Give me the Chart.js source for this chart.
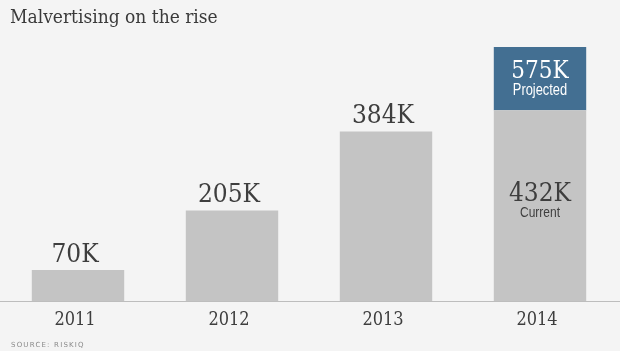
<!DOCTYPE html>
<html>
<head>
<meta charset="utf-8">
<script src="https://cdn.jsdelivr.net/npm/chart.js@4/dist/chart.umd.min.js"></script>
<style>
  html, body { margin: 0; padding: 0; background: #f4f4f4; }
  #wrap { position: relative; width: 620px; height: 351px; }
</style>
</head>
<body>
<div id="wrap"><canvas id="malChart" width="620" height="351"></canvas></div>
<script>
const years = ['2011', '2012', '2013', '2014'];
const current = [70, 205, 384, 432];          // thousands
const projectedTotal = [null, null, null, 575]; // thousands
const valueLabels = ['70K', '205K', '384K', '432K'];
const projectedLabel = '575K';

const SERIF = '"DejaVu Serif Condensed", "DejaVu Serif", serif';
const SANS = '"Liberation Sans", Arial, sans-serif';

// projected part sits on top of the current bar
const projectedExtra = projectedTotal.map(function(t, i) { return t == null ? null : t - current[i]; });

// narrow sans text, squeezed horizontally
function narrowText(c, txt, x, y, size, sx) {
  c.save();
  c.translate(x, y);
  c.scale(sx, 1);
  c.font = size + 'px ' + SANS;
  c.fillText(txt, 0, 0);
  c.restore();
}

const labelPlugin = {
  id: 'labels',
  beforeDraw(chart) {
    const c = chart.ctx;
    c.save();
    c.fillStyle = '#f4f4f4';
    c.fillRect(0, 0, chart.width, chart.height);
    c.restore();
  },
  afterDraw(chart) {
    const c = chart.ctx;
    const area = chart.chartArea;
    const cur = chart.getDatasetMeta(0).data;
    const proj = chart.getDatasetMeta(1).data;
    c.save();

    // baseline
    c.strokeStyle = '#bdbdbd';
    c.lineWidth = 1;
    c.beginPath();
    c.moveTo(0, area.bottom + 0.5);
    c.lineTo(chart.width, area.bottom + 0.5);
    c.stroke();

    // title
    c.fillStyle = '#3a3a3a';
    c.textAlign = 'left';
    c.textBaseline = 'alphabetic';
    c.font = '19px ' + SERIF;
    c.fillText('Malvertising on the rise', 10, 23);

    // source
    c.fillStyle = '#8a8a8a';
    c.font = '7px "DejaVu Sans", sans-serif';
    c.letterSpacing = '1.2px';
    c.fillText('SOURCE: RISKIQ', 11, 347);
    c.letterSpacing = '0px';

    c.textAlign = 'center';
    years.forEach(function(y, i) {
      const bar = cur[i];
      // year tick
      c.fillStyle = '#3e3e3e';
      c.font = '18px ' + SERIF;
      c.fillText(y, bar.x - 3, 325);

      if (projectedTotal[i] == null) {
        c.font = '26px ' + SERIF;
        c.fillText(valueLabels[i], bar.x - 3, bar.y - 8);
      } else {
        const p = proj[i];
        c.fillStyle = '#fff';
        c.font = '24px ' + SERIF;
        c.fillText(projectedLabel, p.x, p.y + 31);
        narrowText(c, 'Projected', p.x, p.y + 48, 16.5, 0.78);
        c.fillStyle = '#3e3e3e';
        c.font = '26px ' + SERIF;
        c.fillText(valueLabels[i], bar.x, 201);
        narrowText(c, 'Current', bar.x, 217, 15, 0.8);
      }
    });
    c.restore();
  }
};

new Chart(document.getElementById('malChart'), {
  type: 'bar',
  data: {
    labels: years,
    datasets: [
      { label: 'Current', data: current, backgroundColor: '#c4c4c4', borderWidth: 0, categoryPercentage: 1, barPercentage: 0.6 },
      { label: 'Projected', data: projectedExtra, backgroundColor: '#436f92', borderWidth: 0, categoryPercentage: 1, barPercentage: 0.6 }
    ]
  },
  options: {
    responsive: false,
    animation: false,
    layout: { padding: { top: 36, bottom: 50, left: 1, right: 3 } },
    plugins: { legend: { display: false }, tooltip: { enabled: false } },
    scales: {
      x: { stacked: true, display: false },
      y: { stacked: true, display: false, min: 0, max: 600 }
    }
  },
  plugins: [labelPlugin]
});
</script>
</body>
</html>
